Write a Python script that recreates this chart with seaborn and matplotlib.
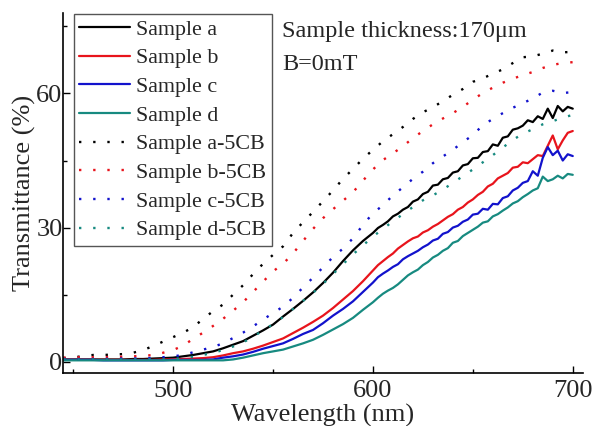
import numpy as np
import pandas as pd
import matplotlib
matplotlib.use("Agg")
import matplotlib.pyplot as plt
import seaborn as sns
from matplotlib.ticker import MultipleLocator

# wavelength grids (nm)
wl_solid = [445, 450, 455, 460, 465, 470, 475, 480, 485, 490, 495, 500, 505, 510,
            515, 520, 525, 530, 535, 540, 545, 550, 555, 560, 565, 570, 575, 580,
            585, 590, 595, 600, 602.5, 605, 607.5, 610, 612.5, 615, 617.5, 620,
            622.5, 625, 627.5, 630, 632.5, 635, 637.5, 640, 642.5, 645, 647.5, 650,
            652.5, 655, 657.5, 660, 662.5, 665, 667.5, 670, 672.5, 675, 677.5, 680,
            682.5, 685, 687.5, 690, 692.5, 695, 697.5, 700]
wl_dot = [445, 450, 455, 460, 465, 470, 475, 480, 485, 490, 495, 500, 505, 510, 515,
          520, 525, 530, 535, 540, 545, 550, 555, 560, 565, 570, 575, 580, 585, 590,
          595, 600, 605, 610, 615, 620, 625, 630, 635, 640, 645, 650, 655, 660, 665,
          670, 675, 680, 685, 690, 695, 700]

# transmittance (%), plain samples
sample_a = [0.5, 0.5, 0.5, 0.5, 0.5, 0.5, 0.5, 0.6, 0.6, 0.7, 0.8, 0.9, 1.2, 1.5,
            1.9, 2.3, 3.0, 3.8, 4.6, 5.8, 7.0, 8.3, 10.1, 11.8, 13.6, 15.5, 17.6, 19.9,
            22.5, 24.9, 27.0, 28.8, 29.9, 30.6, 31.4, 32.5, 33.1, 34.0, 34.6, 35.8,
            36.3, 37.5, 38.0, 39.4, 39.6, 40.8, 41.1, 42.3, 42.6, 43.9, 44.2, 45.5,
            45.6, 46.9, 47.1, 48.6, 48.3, 50.1, 50.4, 51.9, 52.2, 52.8, 54.0, 53.6,
            54.9, 54.3, 56.6, 54.5, 57.2, 56.0, 57.0, 56.6]
sample_b = [0.4, 0.4, 0.4, 0.4, 0.4, 0.4, 0.4, 0.4, 0.4, 0.4, 0.5, 0.5, 0.6, 0.7,
            0.8, 1.0, 1.4, 1.9, 2.3, 2.9, 3.6, 4.4, 5.2, 6.4, 7.6, 8.9, 10.3, 12.0,
            13.9, 15.8, 18.0, 20.4, 21.6, 22.5, 23.4, 24.2, 25.3, 26.1, 26.9, 27.6,
            28.0, 28.9, 29.4, 30.2, 30.8, 31.6, 32.4, 33.0, 34.0, 34.6, 35.6, 36.3,
            37.3, 38.0, 39.2, 39.8, 41.0, 41.6, 42.2, 43.4, 43.6, 44.6, 44.4, 45.3,
            46.2, 46.0, 48.3, 50.6, 47.5, 49.5, 51.2, 51.6]
sample_c = [0.4, 0.4, 0.4, 0.4, 0.3, 0.3, 0.3, 0.3, 0.3, 0.3, 0.3, 0.4, 0.4, 0.4,
            0.4, 0.5, 0.9, 1.2, 1.6, 2.2, 2.9, 3.5, 4.1, 5.1, 6.2, 7.1, 8.6, 10.3,
            11.8, 13.5, 15.6, 17.7, 18.9, 19.7, 20.4, 21.2, 21.8, 22.9, 23.6, 24.2,
            24.8, 25.6, 26.2, 27.1, 27.5, 28.6, 29.0, 30.0, 30.4, 31.3, 31.8, 32.9,
            33.1, 34.2, 34.0, 35.3, 35.2, 36.6, 37.0, 38.3, 38.9, 40.0, 40.4, 42.6,
            41.6, 45.6, 48.0, 46.2, 47.2, 45.0, 46.4, 46.0]
sample_d = [0.3, 0.3, 0.3, 0.3, 0.3, 0.3, 0.3, 0.3, 0.3, 0.3, 0.3, 0.3, 0.3, 0.3,
            0.3, 0.3, 0.3, 0.5, 0.9, 1.4, 1.9, 2.3, 2.7, 3.4, 4.1, 4.9, 6.0, 7.2,
            8.4, 9.8, 11.6, 13.3, 14.3, 15.2, 15.9, 16.5, 17.3, 18.3, 19.3, 20.0,
            20.6, 21.6, 22.3, 23.3, 23.9, 24.8, 25.4, 26.6, 27.0, 28.1, 28.8, 29.5,
            30.2, 31.1, 31.4, 32.5, 33.0, 33.8, 34.5, 35.4, 35.9, 36.8, 37.5, 38.3,
            38.8, 41.4, 40.4, 40.8, 41.6, 41.0, 42.0, 41.8]

# transmittance (%), samples with 5CB
sample_a_5cb = [0.8, 0.9, 1.3, 1.5, 1.5, 1.6, 1.7, 2.0, 2.6, 3.5, 4.5, 5.5, 6.5, 7.7,
                9.6, 11.3, 12.8, 15.0, 17.1, 19.6, 21.9, 23.9, 25.8, 28.8, 31.2, 33.5,
                35.9, 38.3, 40.9, 43.1, 45.4, 47.4, 49.3, 50.9, 52.5, 54.3, 55.8, 56.9,
                58.3, 59.7, 61.0, 62.6, 63.4, 64.4, 65.4, 66.8, 68.1, 68.3, 68.9, 69.6,
                69.2, 69.3]
sample_b_5cb = [0.9, 1.0, 1.0, 1.0, 1.0, 1.1, 1.1, 1.2, 1.3, 1.5, 2.0, 2.6, 3.6, 5.1,
                6.5, 8.0, 9.6, 11.4, 13.3, 15.6, 17.9, 20.2, 21.9, 24.2, 27.0, 29.7,
                32.1, 34.1, 36.0, 37.9, 40.5, 43.0, 45.1, 46.6, 48.2, 50.0, 51.6, 53.1,
                54.4, 55.6, 57.0, 58.6, 60.1, 61.3, 62.4, 63.3, 64.1, 64.8, 65.7, 66.4,
                66.8, 67.0]
sample_c_5cb = [0.6, 0.6, 0.6, 0.6, 0.6, 0.7, 0.7, 0.7, 0.8, 0.8, 1.0, 1.2, 1.5, 2.1,
                2.7, 3.3, 4.1, 5.3, 6.5, 7.9, 9.4, 10.9, 12.3, 14.3, 16.6, 18.8, 21.1,
                23.4, 25.3, 27.6, 30.6, 33.2, 35.0, 37.2, 39.0, 40.9, 42.5, 44.4, 45.9,
                47.4, 49.1, 50.7, 52.9, 54.3, 55.6, 56.8, 57.8, 58.9, 60.2, 60.6, 60.1,
                60.3]
sample_d_5cb = [0.5, 0.5, 0.5, 0.5, 0.5, 0.5, 0.5, 0.5, 0.5, 0.5, 0.5, 0.6, 0.8, 1.1,
                1.5, 2.0, 2.6, 3.4, 4.3, 5.6, 7.0, 8.4, 10.0, 11.8, 13.6, 15.4, 17.4,
                19.6, 21.8, 24.0, 26.0, 28.0, 29.7, 31.4, 33.0, 34.6, 36.1, 37.2, 38.5,
                40.0, 41.5, 43.0, 44.6, 46.2, 47.9, 49.6, 51.0, 52.0, 53.1, 53.8, 54.6,
                55.2]

labels = ["Sample a", "Sample b", "Sample c", "Sample d",
          "Sample a-5CB", "Sample b-5CB", "Sample c-5CB", "Sample d-5CB"]
colors = ["#000000", "#e8141c", "#1212cc", "#178a80"]

sns.set_style("ticks")
plt.rcParams["font.family"] = ["Liberation Serif", "DejaVu Serif"]

fig = plt.figure(figsize=(5.93, 4.26), dpi=100)
ax = fig.add_axes([0.1067, 0.1237, 0.876, 0.8458])

solid = [sample_a, sample_b, sample_c, sample_d]
dotted = [sample_a_5cb, sample_b_5cb, sample_c_5cb, sample_d_5cb]
for i, ys in enumerate(solid):
    sns.lineplot(x=wl_solid, y=ys, color=colors[i], lw=1.6, label=labels[i], ax=ax)
for i, ys in enumerate(dotted):
    sns.lineplot(x=wl_dot, y=ys, color=colors[i], lw=1.7, linestyle=(0, (1, 5)),
                 label=labels[i + 4], ax=ax)

ax.set_xlim(445, 705)
ax.set_ylim(-2.6, 78)
ax.xaxis.set_major_locator(MultipleLocator(100))
ax.xaxis.set_minor_locator(MultipleLocator(50))
ax.yaxis.set_major_locator(MultipleLocator(30))
ax.yaxis.set_minor_locator(MultipleLocator(15))
ax.tick_params(which="both", direction="in", width=1.0, labelsize=19, color="black")
ax.tick_params(which="major", length=5)
ax.tick_params(which="minor", length=3)
ax.tick_params(axis="x", pad=5)
ax.tick_params(axis="y", pad=0.5)
sns.despine(ax=ax)
for s in ["left", "bottom"]:
    ax.spines[s].set_linewidth(1.2)
    ax.spines[s].set_color("black")

ax.set_xlabel("Wavelength (nm)", fontsize=19, labelpad=1)
ax.set_ylabel("Transmittance (%)", fontsize=19, labelpad=0)

leg = ax.legend(loc="upper left", bbox_to_anchor=(0.02, 0.998), fontsize=15.8,
                frameon=True, fancybox=False, edgecolor="#555555", framealpha=1,
                handlelength=2.3, handletextpad=0.3, labelspacing=0.38,
                borderpad=0.25, borderaxespad=0)
leg.get_frame().set_linewidth(1.0)

ax.text(0.421, 0.933, "Sample thickness:170μm", transform=ax.transAxes,
        fontsize=17.5, ha="left", va="baseline")
ax.text(0.421, 0.842, "B=0mT", transform=ax.transAxes,
        fontsize=17.5, ha="left", va="baseline")

fig.savefig("out.png", dpi=100)
